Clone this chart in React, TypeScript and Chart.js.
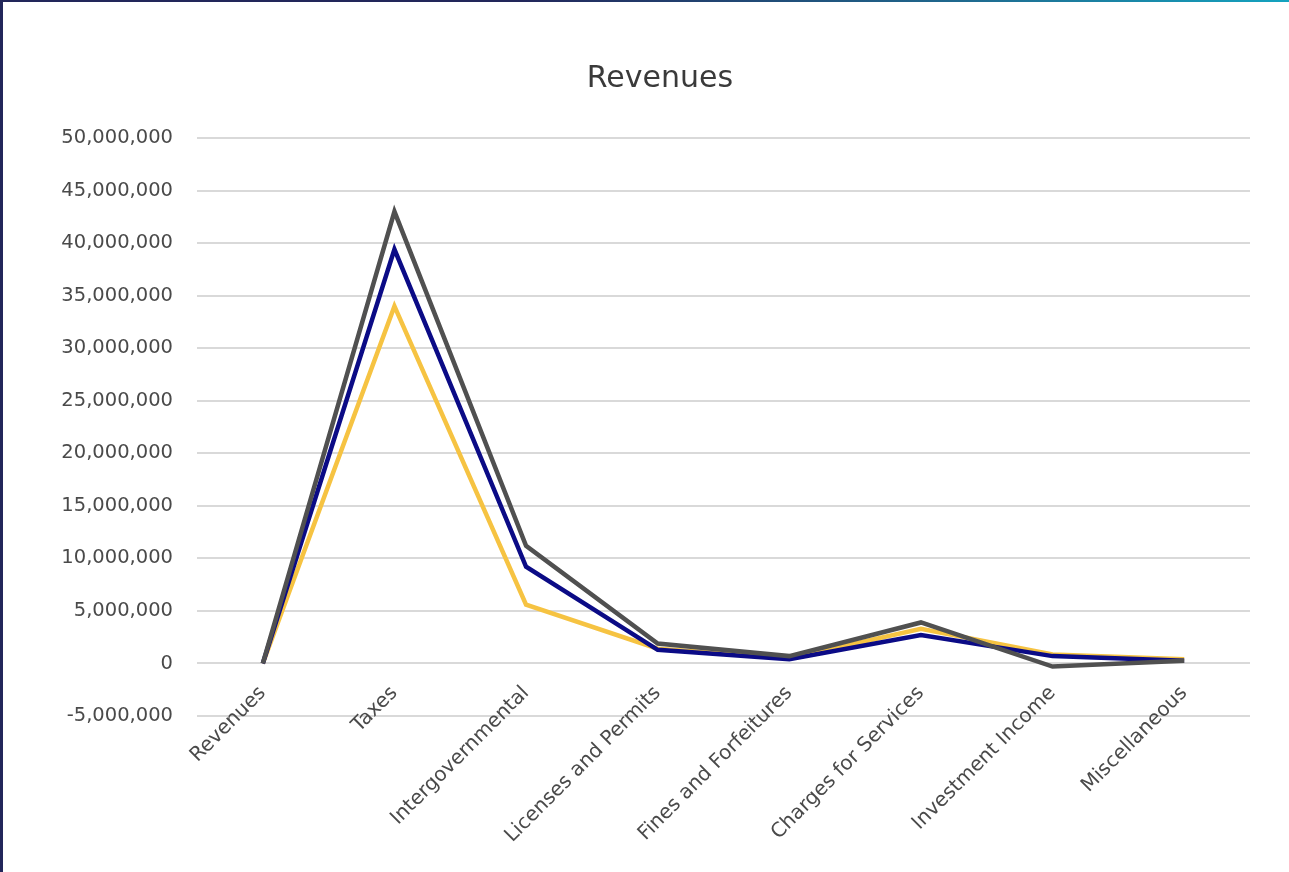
import React, { useEffect, useRef } from "react";
import { Chart, registerables } from "chart.js";

Chart.register(...registerables);

const categories = [
  "Revenues",
  "Taxes",
  "Intergovernmental",
  "Licenses and Permits",
  "Fines and Forfeitures",
  "Charges for Services",
  "Investment Income",
  "Miscellaneous",
];

const seriesGray = [0, 43000000, 11200000, 1900000, 700000, 3900000, -300000, 250000];
const seriesBlue = [0, 39400000, 9200000, 1300000, 400000, 2700000, 700000, 250000];
const seriesYellow = [0, 34000000, 5600000, 1400000, 500000, 3300000, 850000, 400000];

const yMin = -5000000;
const yMax = 50000000;
const yStep = 5000000;

const FONT = "'DejaVu Sans', 'Open Sans', sans-serif";

export default function App() {
  const ref = useRef<HTMLCanvasElement | null>(null);

  useEffect(() => {
    if (!ref.current) return;
    const chart = new Chart(ref.current, {
      type: "line",
      data: {
        labels: categories,
        datasets: [
          { label: "Series 3", data: seriesGray, borderColor: "#505050", borderWidth: 4.5, pointRadius: 0, tension: 0, fill: false },
          { label: "Series 2", data: seriesBlue, borderColor: "#0b0b86", borderWidth: 4.5, pointRadius: 0, tension: 0, fill: false },
          { label: "Series 1", data: seriesYellow, borderColor: "#f6c342", borderWidth: 4.5, pointRadius: 0, tension: 0, fill: false },
        ],
      },
      options: {
        responsive: false,
        animation: false,
        layout: { padding: { left: 56, right: 25, top: 0, bottom: 156 } },
        plugins: {
          legend: { display: false },
          tooltip: { enabled: false },
          title: {
            display: true,
            text: "Revenues",
            color: "#3a3a3a",
            font: { family: FONT, size: 30, weight: "normal" },
            padding: { top: 61, bottom: 41 },
          },
        },
        scales: {
          y: {
            min: yMin,
            max: yMax,
            afterFit: (scale: any) => {
              scale.width = 141;
            },
            ticks: {
              stepSize: yStep,
              padding: 24,
              color: "#4a4a4a",
              font: { family: FONT, size: 19.5 },
              callback: (v: any) => Number(v).toLocaleString("en-US"),
            },
            grid: { color: "#d9d9d9", lineWidth: 2, drawTicks: false },
            border: { display: false },
          },
          yRight: {
            type: "linear",
            position: "right",
            display: true,
            afterFit: (scale: any) => {
              scale.width = 14;
            },
            ticks: { display: false },
            grid: { display: false, drawTicks: false },
            border: { display: false },
          },
          x: {
            type: "category",
            position: { y: 0 } as any,
            offset: true,
            grid: { display: false, drawTicks: false },
            border: { display: false },
            ticks: {
              minRotation: 45,
              maxRotation: 45,
              autoSkip: false,
              padding: 18,
              color: "#4a4a4a",
              font: { family: FONT, size: 20 },
            },
          },
        },
      },
    });
    return () => chart.destroy();
  }, []);

  return (
    <div style={{ position: "fixed", left: 0, top: 0, width: 1289, height: 872, background: "#ffffff", overflow: "hidden" }}>
      <canvas ref={ref} width={1289} height={872} style={{ display: "block", position: "absolute", left: 0, top: 0 }} />
      <div style={{ position: "absolute", left: 0, top: 0, width: 3, height: 872, background: "#22265a" }} />
      <div style={{ position: "absolute", left: 0, top: 0, width: 1289, height: 2, background: "linear-gradient(to right, #22265a 0%, #22265a 40%, #1f6a8f 75%, #14a3bf 100%)" }} />
    </div>
  );
}
